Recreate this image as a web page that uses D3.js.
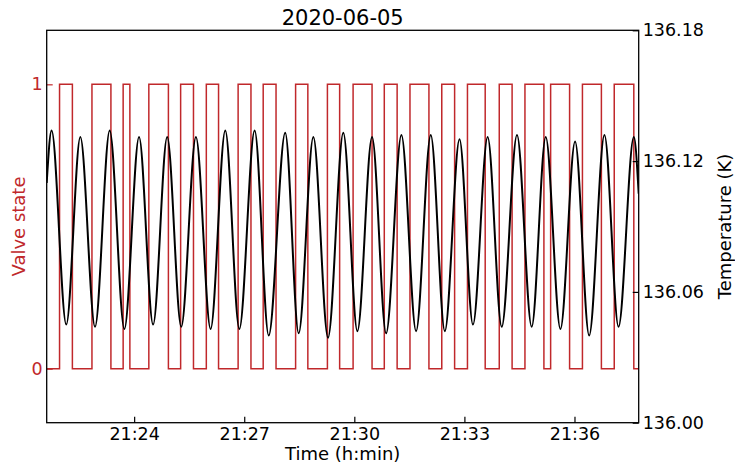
<!DOCTYPE html>
<html>
<head>
<meta charset="utf-8">
<script src="https://cdn.jsdelivr.net/npm/d3@7"></script>
<style>
  body { margin: 0; background: #fff; }
  svg { font-family: "DejaVu Sans", sans-serif; }
</style>
</head>
<body>
<script>
// valve state / temperature, 2020-06-05
const TITLE = "2020-06-05";
const W = 735, H = 465;
const margin = { top: 30.3, right: 96.3, bottom: 42.3, left: 46.7 };
const VALVE_RED = "#c0282b";

// valve: starts closed, every entry below is a switch time (open, close, open, ...)
const valveStart = "21:21:37", valveEnd = "21:37:45";
const valveSwitches = [
    "21:21:58", "21:22:19", "21:22:51", "21:23:22", "21:23:42", "21:23:53",
    "21:24:24", "21:24:56", "21:25:16", "21:25:37", "21:25:58", "21:26:18",
    "21:26:50", "21:27:11", "21:27:31", "21:27:52", "21:28:24", "21:28:44",
    "21:29:16", "21:29:36", "21:29:58", "21:30:29", "21:30:49", "21:31:10",
    "21:31:31", "21:32:02", "21:32:23", "21:32:44", "21:33:05", "21:33:34",
    "21:33:57", "21:34:18", "21:34:39", "21:35:10", "21:35:21", "21:35:52",
    "21:36:13", "21:36:44", "21:37:05", "21:37:37"
];

// temperature turning points (K)
const tempTimes = [
    "21:21:37", "21:21:45", "21:22:09", "21:22:32", "21:22:56", "21:23:20",
    "21:23:44", "21:24:08", "21:24:31", "21:24:54", "21:25:17", "21:25:41",
    "21:26:05", "21:26:29", "21:26:52", "21:27:17", "21:27:40", "21:28:07",
    "21:28:29", "21:28:53", "21:29:17", "21:29:42", "21:30:05", "21:30:29",
    "21:30:52", "21:31:17", "21:31:41", "21:32:05", "21:32:28", "21:32:52",
    "21:33:14", "21:33:38", "21:34:01", "21:34:26", "21:34:50", "21:35:13",
    "21:35:37", "21:36:01", "21:36:24", "21:36:49", "21:37:12", "21:37:37",
    "21:37:45"
];
const tempValues = [
    136.110, 136.134, 136.045, 136.131, 136.044, 136.134,
    136.043, 136.131, 136.045, 136.131, 136.044, 136.131,
    136.043, 136.134, 136.043, 136.134, 136.040, 136.133,
    136.041, 136.131, 136.039, 136.133, 136.042, 136.131,
    136.041, 136.132, 136.042, 136.132, 136.042, 136.130,
    136.045, 136.131, 136.044, 136.132, 136.044, 136.131,
    136.043, 136.129, 136.040, 136.132, 136.044, 136.131,
    136.105
];

const valveTicks = [0, 1];
const tempTicks = [136.00, 136.06, 136.12, 136.18];
const tempDomain = [136.00, 136.18];
const valveDomain = [-0.19, 1.19];

const parseT = d3.timeParse("%H:%M:%S");

const valveData = [{ t: parseT(valveStart), v: 0 }];
valveSwitches.forEach((s, i) => valveData.push({ t: parseT(s), v: i % 2 === 0 ? 1 : 0 }));
valveData.push({ t: parseT(valveEnd), v: valveData[valveData.length - 1].v });

const tempData = tempTimes.map((s, i) => ({ t: parseT(s), v: tempValues[i] }));

const innerW = W - margin.left - margin.right;
const innerH = H - margin.top - margin.bottom;

const x = d3.scaleTime()
    .domain([parseT(valveStart), parseT(valveEnd)])
    .range([0, innerW]);
const yValve = d3.scaleLinear().domain(valveDomain).range([innerH, 0]);
const yTemp = d3.scaleLinear().domain(tempDomain).range([innerH, 0]);

const svg = d3.select("body").append("svg")
    .attr("width", W)
    .attr("height", H);

svg.append("defs").append("clipPath").attr("id", "plot-clip")
    .append("rect").attr("width", innerW).attr("height", innerH);

const g = svg.append("g").attr("transform", `translate(${margin.left},${margin.top})`);

// ── Lines ──────────────────────────────────────────────────────────────────
const plot = g.append("g").attr("clip-path", "url(#plot-clip)");

plot.append("path")
    .datum(valveData)
    .attr("fill", "none")
    .attr("stroke", VALVE_RED)
    .attr("stroke-width", 1.5)
    .attr("d", d3.line().x(d => x(d.t)).y(d => yValve(d.v)).curve(d3.curveStepAfter));

plot.append("path")
    .datum(tempData)
    .attr("fill", "none")
    .attr("stroke", "#000")
    .attr("stroke-width", 2)
    .attr("stroke-linejoin", "round")
    .attr("d", d3.line().x(d => x(d.t)).y(d => yTemp(d.v)).curve(d3.curveMonotoneX));

// ── Axes ───────────────────────────────────────────────────────────────────
const xAxis = g.append("g")
    .attr("transform", `translate(0,${innerH})`)
    .call(d3.axisBottom(x)
        .ticks(d3.timeMinute.every(3))
        .tickFormat(d3.timeFormat("%H:%M"))
        .tickSize(-6).tickPadding(5));

const yLeft = g.append("g")
    .call(d3.axisLeft(yValve).tickValues(valveTicks).tickFormat(d3.format("d"))
        .tickSize(-6).tickPadding(4));

const yRight = g.append("g")
    .attr("transform", `translate(${innerW},0)`)
    .call(d3.axisRight(yTemp).tickValues(tempTicks).tickFormat(d3.format(".2f"))
        .tickSize(-6).tickPadding(4));

[xAxis, yLeft, yRight].forEach(a => {
    a.select(".domain").remove();
    a.selectAll("text").attr("font-size", 17.5).attr("font-family", "DejaVu Sans").attr("fill", "#000");
    a.selectAll("line").attr("stroke-width", 1.2);
});
yLeft.selectAll("line").attr("stroke", VALVE_RED);
yLeft.selectAll("text").attr("fill", VALVE_RED);

// frame
g.append("rect")
    .attr("width", innerW).attr("height", innerH)
    .attr("fill", "none").attr("stroke", "#000").attr("stroke-width", 1.3);

// ── Labels ─────────────────────────────────────────────────────────────────
svg.append("text")
    .attr("x", margin.left + innerW / 2).attr("y", 24.5)
    .attr("text-anchor", "middle")
    .attr("font-size", 21).attr("fill", "#000")
    .text(TITLE);

svg.append("text")
    .attr("x", margin.left + innerW / 2).attr("y", 460)
    .attr("text-anchor", "middle")
    .attr("font-size", 18).attr("fill", "#000")
    .text("Time (h:min)");

svg.append("text")
    .attr("transform", `translate(25,${margin.top + innerH / 2}) rotate(-90)`)
    .attr("text-anchor", "middle")
    .attr("font-size", 18).attr("fill", VALVE_RED)
    .text("Valve state");

svg.append("text")
    .attr("transform", `translate(731,${margin.top + innerH / 2}) rotate(-90)`)
    .attr("text-anchor", "middle")
    .attr("font-size", 18).attr("fill", "#000")
    .text("Temperature (K)");
</script>
</body>
</html>
